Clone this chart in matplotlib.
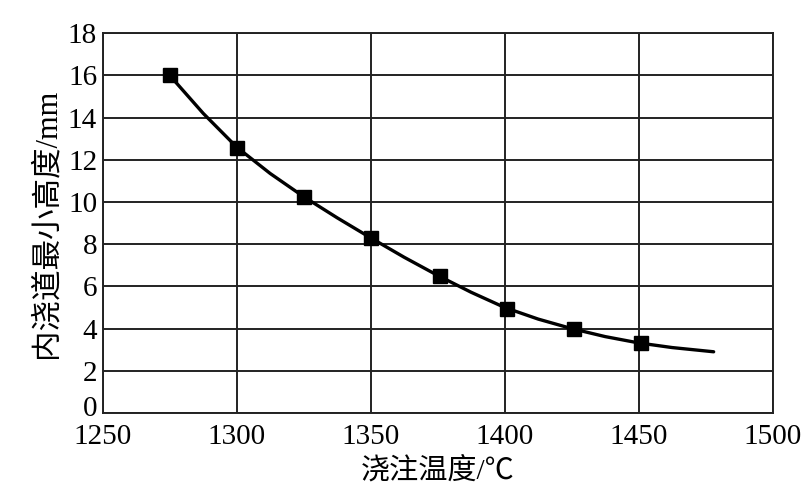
import matplotlib.pyplot as plt
from matplotlib.transforms import ScaledTranslation

# measured points (pouring temperature vs minimum ingate height)
temp = [1275, 1300, 1325, 1350, 1376, 1401, 1426, 1451]
height = [16.0, 12.55, 10.25, 8.3, 6.5, 4.95, 4.0, 3.3]

# fitted curve
curve_x = [1275, 1287.5, 1300, 1312.5, 1325, 1337.5, 1350, 1362.5, 1375,
           1387.5, 1400, 1412.5, 1425, 1437.5, 1450, 1462.5, 1478]
curve_y = [16.0, 14.2, 12.6, 11.35, 10.25, 9.25, 8.3, 7.38, 6.52,
           5.72, 5.0, 4.45, 4.0, 3.62, 3.32, 3.1, 2.9]

xticks = [1250, 1300, 1350, 1400, 1450, 1500]
yticks = list(range(0, 19, 2))

num_font = 'Liberation Serif'
cjk_font = ['Liberation Serif', 'Noto Sans CJK SC', 'DejaVu Sans']

fig = plt.figure(figsize=(8.09, 5.03), dpi=100)
ax = fig.add_axes([0.127, 0.179, 0.828, 0.755])

ax.plot(curve_x, curve_y, color='black', lw=2.4, zorder=3,
        solid_joinstyle='round', solid_capstyle='round')
ax.plot(temp, height, 's', color='black', markersize=9.5, zorder=4)

ax.set_xlim(1250, 1500)
ax.set_ylim(0, 18)
ax.set_xticks(xticks)
ax.set_yticks(yticks)
ax.grid(True, color='#222222', lw=1.4)
for s in ax.spines.values():
    s.set_linewidth(1.4)
    s.set_color('#222222')
ax.tick_params(axis='y', length=0, pad=4)
ax.tick_params(axis='x', length=0, pad=8)
for lab in ax.get_xticklabels() + ax.get_yticklabels():
    lab.set_fontfamily(num_font)
    lab.set_fontsize(21)

# lift the "0" a little so it clears "1250"
zero = ax.yaxis.get_major_ticks()[0].label1
zero.set_transform(zero.get_transform() + ScaledTranslation(0, 5 / 72, fig.dpi_scale_trans))

ax.set_xlabel('浇注温度/℃', family=cjk_font, fontsize=21, labelpad=5)
ax.set_ylabel('内浇道最小高度/mm', family=cjk_font, fontsize=22, labelpad=5)

fig.savefig('out.png', dpi=100)
